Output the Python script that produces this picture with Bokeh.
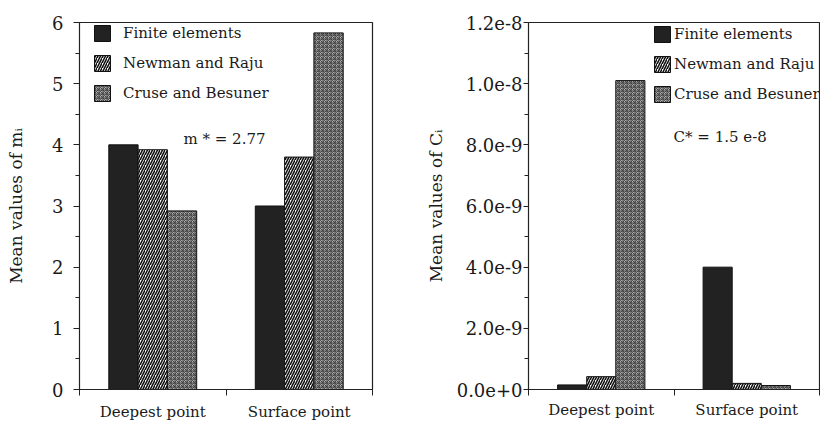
import numpy as np
from bokeh.plotting import figure
from bokeh.layouts import row
from bokeh.models import FixedTicker, PrintfTickFormatter, Label, ColumnDataSource
from bokeh.embed import file_html
from bokeh.resources import INLINE

categories = ["Deepest point", "Surface point"]
series = ["Finite elements", "Newman and Raju", "Cruse and Besuner"]

m_finite = [4.0, 3.0]
m_newman = [3.92, 3.8]
m_cruse = [2.92, 5.83]

c_finite = [1.5e-10, 4.0e-9]
c_newman = [4.2e-10, 2.0e-10]
c_cruse = [1.01e-8, 1.3e-10]

m_ticks = [0, 1, 2, 3, 4, 5, 6]
c_ticks = [0, 2e-9, 4e-9, 6e-9, 8e-9, 1.0e-8, 1.2e-8]

FONT = "DejaVu Serif"
TXT = "#1a1a1a"

styles = [
    dict(fill_color="#222222", hatch_pattern=None),
    dict(fill_color="white", hatch_pattern="right_diagonal_line", hatch_color="#111111",
         hatch_scale=5, hatch_weight=1.6),
    dict(fill_color="#b0b0b0", hatch_pattern="criss_cross", hatch_color="#444444",
         hatch_scale=4, hatch_weight=1),
]
offsets = [-0.2, 0.0, 0.2]


def make(vals, ymax, ticks, minor, ylabel, note, note_xy, leg_loc, leg_standoff,
         width, height, border_left, border_right, border_top, border_bottom,
         tick_out, x_standoff, fmt=None):
    p = figure(output_backend="svg", toolbar_location=None,
               x_range=(0, 2), y_range=(0, ymax),
               width=width, height=height,
               min_border_left=border_left, min_border_right=border_right,
               min_border_top=border_top, min_border_bottom=border_bottom)
    p.xgrid.visible = False
    p.ygrid.visible = False
    p.outline_line_color = "#222222"
    p.outline_line_width = 1.2
    p.background_fill_color = "white"
    p.border_fill_color = "white"

    centers = np.arange(len(categories)) + 0.5
    for s, v, st, off in zip(series, vals, styles, offsets):
        src = ColumnDataSource(dict(x=centers + off, top=v))
        kw = dict(x="x", top="top", width=0.2, source=src, line_color="#111111",
                  line_width=1, legend_label=s, fill_color=st["fill_color"])
        if st["hatch_pattern"]:
            kw.update(hatch_pattern=st["hatch_pattern"], hatch_color=st["hatch_color"],
                      hatch_scale=st["hatch_scale"], hatch_weight=st["hatch_weight"])
        p.vbar(**kw)

    xa = p.xaxis[0]
    xa.ticker = FixedTicker(ticks=list(centers), minor_ticks=[0, 1, 2])
    xa.major_label_overrides = {float(c): cat for c, cat in zip(centers, categories)}
    xa.major_tick_out = 0
    xa.major_tick_in = 0
    xa.minor_tick_out = 6
    xa.minor_tick_in = 0
    xa.major_label_text_font = FONT
    xa.major_label_text_font_size = "15px"
    xa.major_label_text_color = TXT
    xa.major_label_standoff = x_standoff
    xa.axis_line_color = "#222222"
    xa.major_tick_line_color = "#222222"
    xa.minor_tick_line_color = "#222222"

    ya = p.yaxis[0]
    ya.ticker = FixedTicker(ticks=ticks, minor_ticks=minor)
    if fmt:
        ya.formatter = PrintfTickFormatter(format=fmt)
    ya.major_tick_out = tick_out
    ya.major_tick_in = 0
    ya.minor_tick_out = 4
    ya.minor_tick_in = 0
    ya.major_label_text_font = FONT
    ya.major_label_text_font_size = "18px"
    ya.major_label_text_color = TXT
    ya.axis_label = ylabel
    ya.axis_label_text_font = FONT
    ya.axis_label_text_font_size = "17px"
    ya.axis_label_text_font_style = "normal"
    ya.axis_label_text_color = TXT
    ya.axis_line_color = "#222222"
    ya.major_tick_line_color = "#222222"
    ya.minor_tick_line_color = "#222222"

    leg = p.legend[0]
    leg.location = leg_loc
    leg.border_line_color = None
    leg.background_fill_alpha = 0
    leg.padding = 0
    leg.margin = 0
    leg.spacing = 10
    leg.glyph_width = 20
    leg.glyph_height = 20
    leg.label_height = 20
    leg.label_standoff = leg_standoff
    leg.label_text_font = FONT
    leg.label_text_font_size = "15px"
    leg.label_text_color = TXT
    leg.label_text_baseline = "middle"

    p.add_layout(Label(x=note_xy[0], y=note_xy[1], text=note, text_font=FONT,
                       text_font_size="15px", text_color=TXT, text_baseline="middle"))
    return p, ya


p1, ya1 = make([m_finite, m_newman, m_cruse], 6, m_ticks,
               [0.5 * k for k in range(13)], "Mean values of m\u1d62",
               "m * = 2.77", (0.71, 4.10), (13, 286), 11,
               420, 424, 79, 48, 17, 35, 6, 7)
ya1.major_label_standoff = 10
ya1.axis_label_standoff = 23

p2, ya2 = make([c_finite, c_newman, c_cruse], 1.2e-8, c_ticks,
               [1e-9 * k for k in range(13)], "Mean values of C\u1d62",
               "C* = 1.5 e-8", (0.997, 8.27e-9), (124, 285), 2,
               400, 424, 108, 1, 22, 32, 5, 5, fmt="%.1e")
ya2.major_label_standoff = 1
ya2.axis_label_standoff = 8

layout = row(p1, p2, spacing=0)
open("out.html", "w").write(file_html(layout, INLINE))
